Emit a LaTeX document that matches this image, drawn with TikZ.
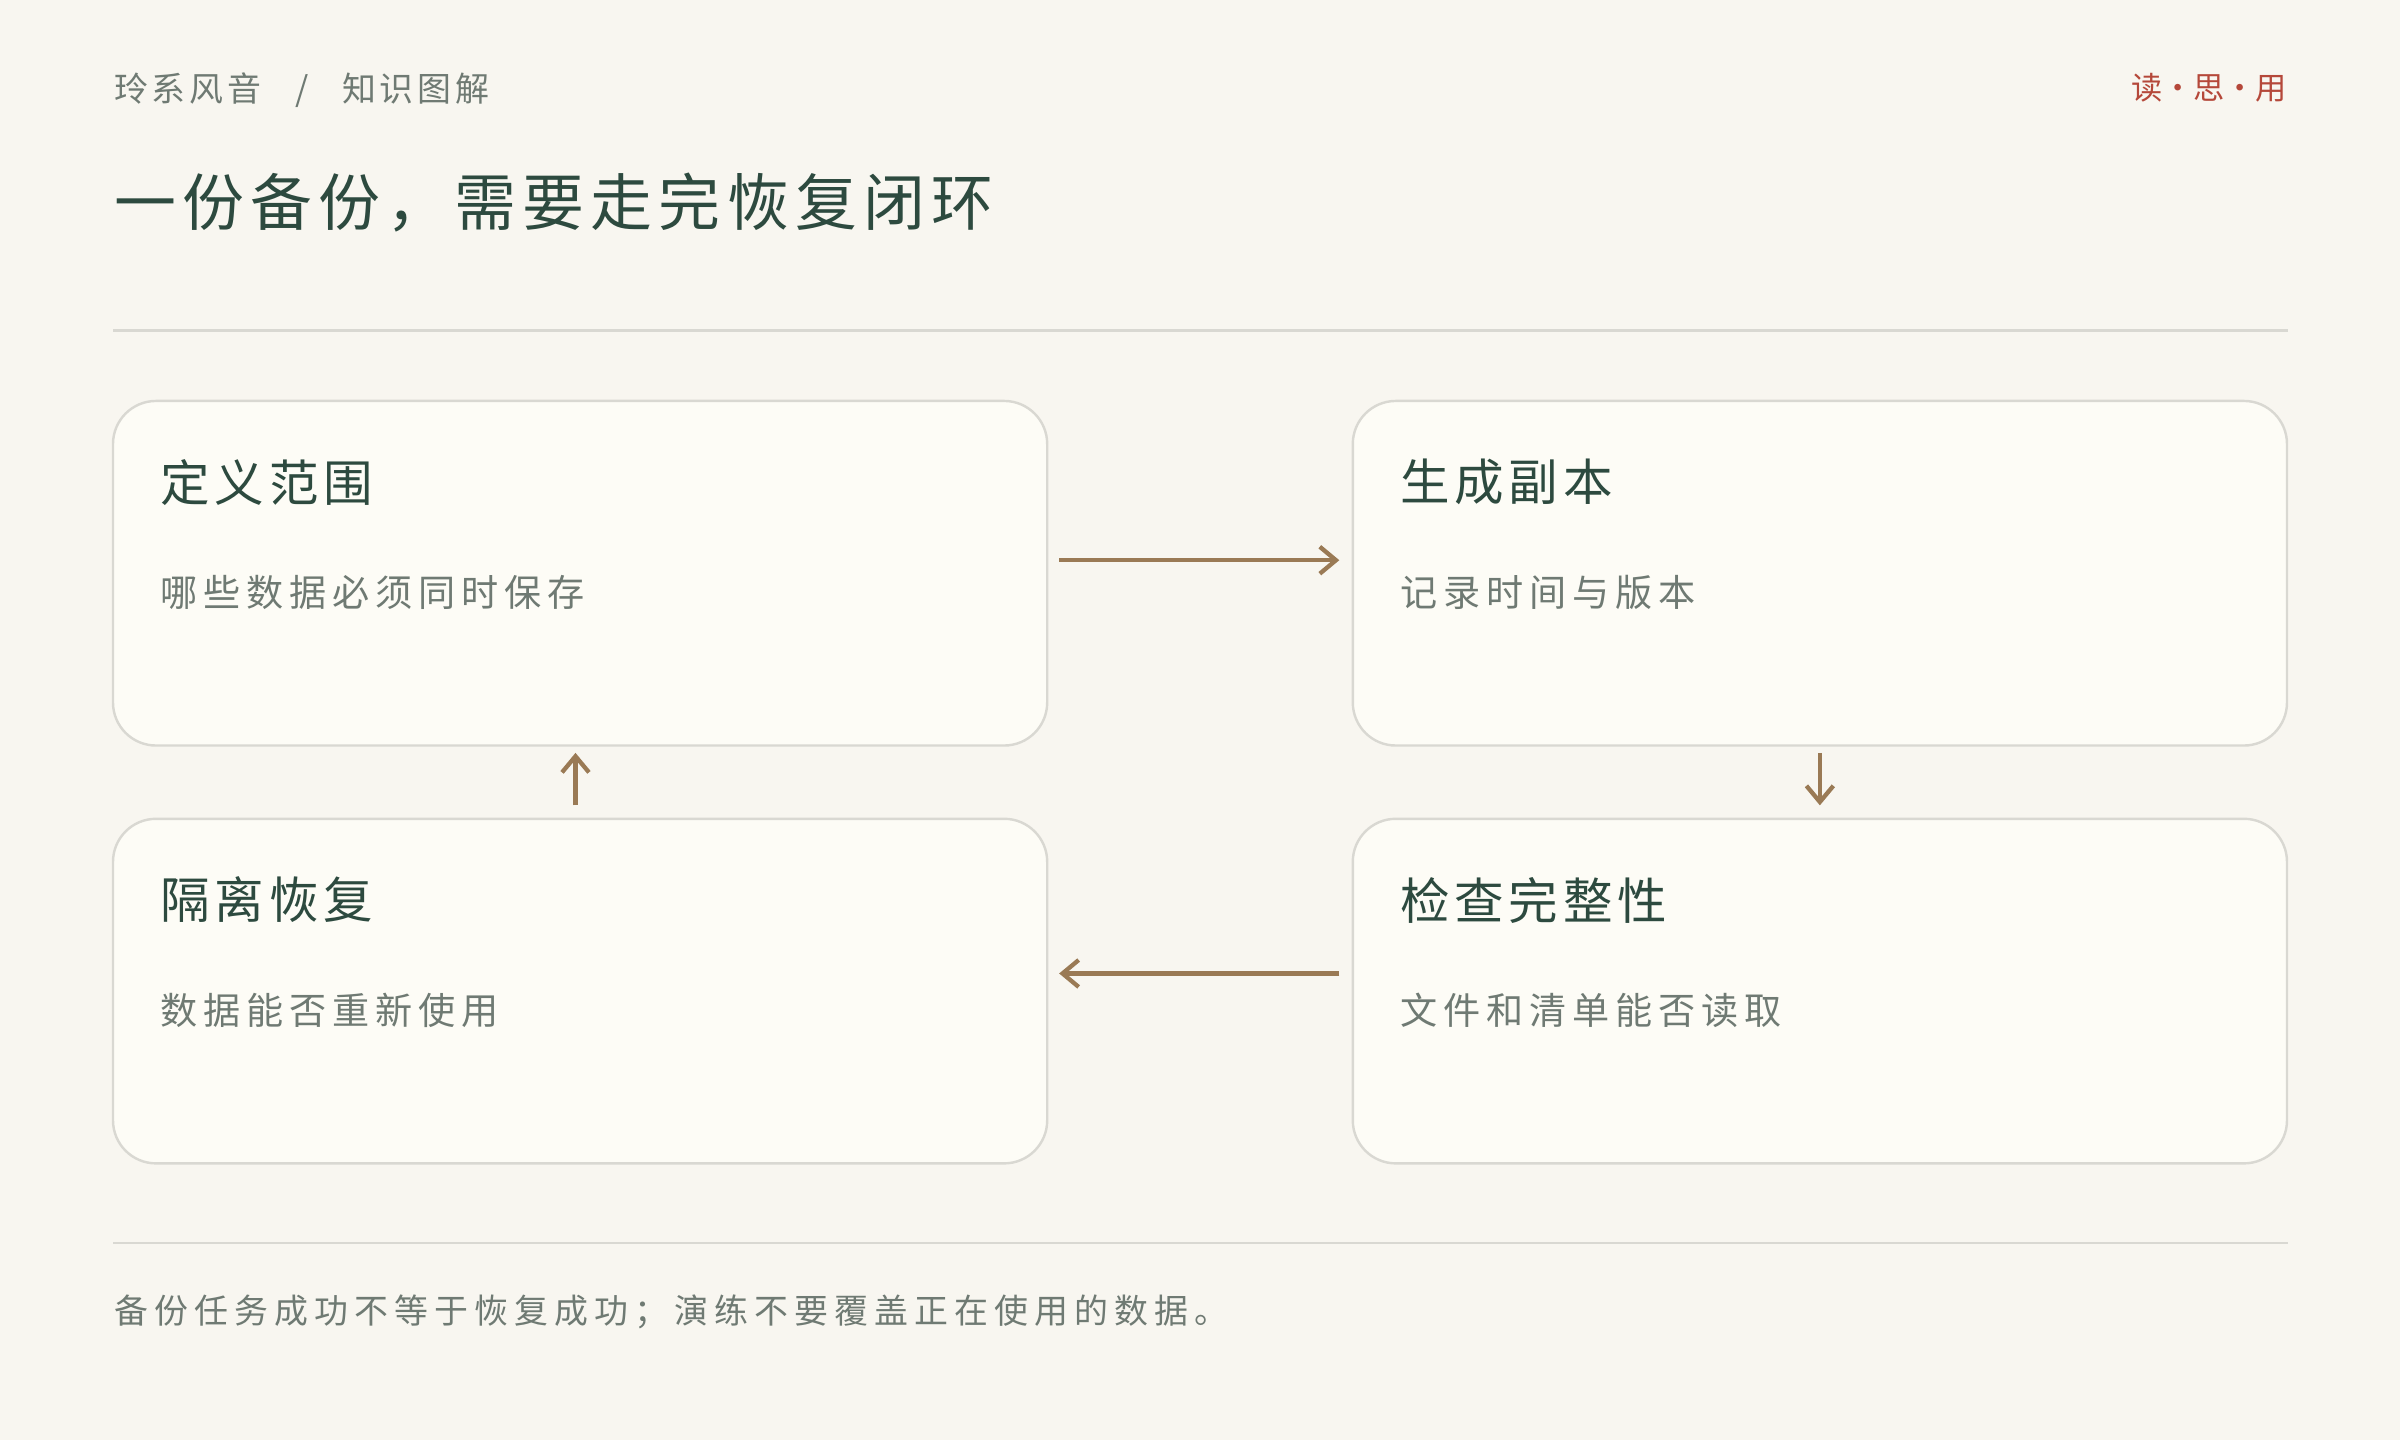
\documentclass[tikz,border=0pt]{standalone}
\usepackage{fontspec}
\setmainfont{Noto Sans CJK SC}
\usetikzlibrary{positioning,arrows.meta}
\definecolor{bgc}{HTML}{F8F6F0}
\definecolor{boxc}{HTML}{FDFCF6}
\definecolor{edgec}{HTML}{D9D8D2}
\definecolor{inkc}{HTML}{2D4A3F}
\definecolor{grayc}{HTML}{6F7A73}
\definecolor{arrc}{HTML}{9A7A55}
\definecolor{redc}{HTML}{B5483A}
\newcommand{\spaced}[1]{\addfontfeature{LetterSpace=#1}}
\tikzset{
  stage/.style={draw=edgec,line width=0.45pt,fill=boxc,rounded corners=8pt,minimum width=6.1cm,minimum height=2.25cm,inner sep=0pt},
  head/.style={anchor=west,inner sep=0pt,text=inkc,font=\fontsize{9.2pt}{10pt}\selectfont\spaced{10}},
  note/.style={anchor=west,inner sep=0pt,text=grayc,font=\fontsize{6.9pt}{8pt}\selectfont\spaced{16}},
  flow/.style={draw=arrc,line width=0.8pt,->,>={Straight Barb[length=3pt,width=5pt]}}
}
\begin{document}
\begin{tikzpicture}[x=0.01cm,y=-0.01cm]
  \useasboundingbox[fill=bgc] (0,0) rectangle (1568,941);
  \node[anchor=west,inner sep=0pt,text=grayc,font=\fontsize{6.3pt}{7pt}\selectfont\spaced{11}] (brand) at (74,59) {玲系风音\quad /\quad 知识图解};
  \node[anchor=east,inner sep=0pt,text=redc,font=\fontsize{5.8pt}{7pt}\selectfont] (tag) at (1495,57) {读·思·用};
  \node[anchor=west,inner sep=0pt,text=inkc,font=\fontsize{11.5pt}{13pt}\selectfont\spaced{10}] (title) at (74,132) {一份备份，需要走完恢复闭环};
  \draw[edgec,line width=0.45pt] (74,216) -- (1495,216);
  \draw[edgec,line width=0.45pt] (74,812) -- (1495,812);

  \node[stage] (def) at (379,374.5) {};
  \node[stage] (gen) at (1189,374.5) {};
  \node[stage] (chk) at (1189,647.5) {};
  \node[stage] (rec) at (379,647.5) {};

  \node[head] at (104,315) {定义范围};
  \node[note] at (104,387) {哪些数据必须同时保存};
  \node[head] at (914,315) {生成副本};
  \node[note] at (914,387) {记录时间与版本};
  \node[head] at (914,588) {检查完整性};
  \node[note] at (914,660) {文件和清单能否读取};
  \node[head] at (104,588) {隔离恢复};
  \node[note] at (104,660) {数据能否重新使用};

  \draw[flow] ([xshift=0.07cm,yshift=0.085cm]def.east) -- ([xshift=-0.08cm,yshift=0.085cm]gen.west);
  \draw[flow] ([yshift=-0.04cm]gen.south) -- ([yshift=0.08cm]chk.north);
  \draw[flow] ([xshift=-0.08cm,yshift=0.115cm]chk.west) -- ([xshift=0.07cm,yshift=0.115cm]rec.east);
  \draw[flow] ([xshift=-0.03cm,yshift=0.08cm]rec.north) -- ([xshift=-0.03cm,yshift=-0.04cm]def.south);

  \node[anchor=west,inner sep=0pt,text=grayc,font=\fontsize{6.3pt}{7pt}\selectfont\spaced{18}] (foot) at (74,857) {备份任务成功不等于恢复成功；演练不要覆盖正在使用的数据。};
\end{tikzpicture}
\end{document}
